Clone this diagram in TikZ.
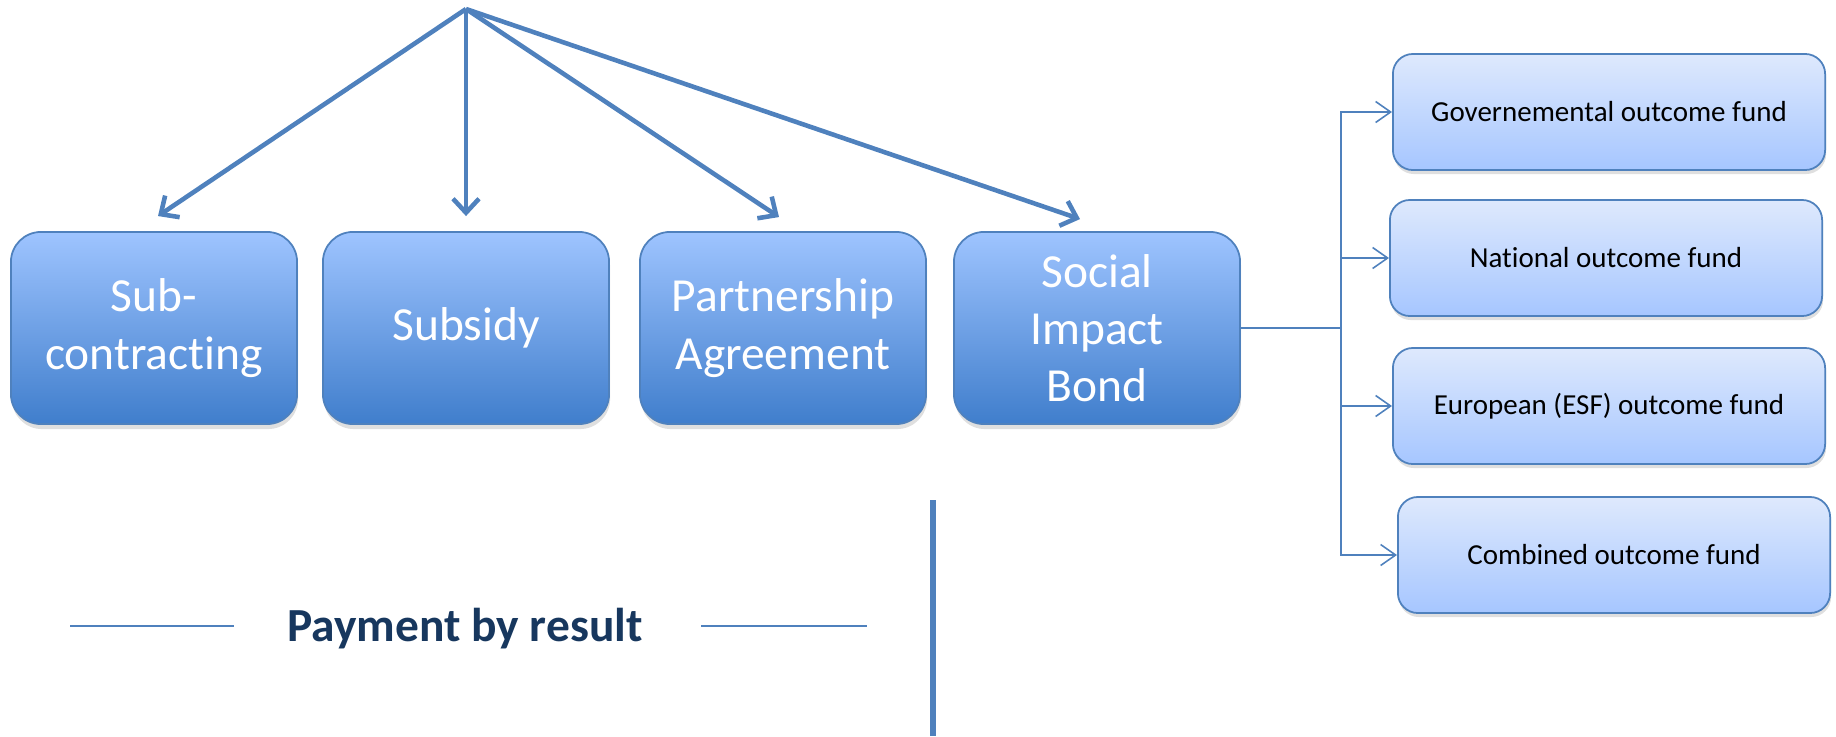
\documentclass[tikz,border=0pt]{standalone}
\usepackage{fontspec}
\setmainfont{Carlito}[Ligatures=NoCommon]
\usetikzlibrary{arrows.meta,shadows}

\definecolor{boxline}{RGB}{79,129,189}
\definecolor{bigtop}{RGB}{158,196,255}
\definecolor{bigbottom}{RGB}{64,126,204}
\definecolor{smalltop}{RGB}{222,233,253}
\definecolor{smallbottom}{RGB}{166,198,255}
\definecolor{navytext}{RGB}{23,55,94}

\tikzset{
    mainbox/.style={draw=boxline, line width=0.5pt, rounded corners=0.3cm,
        top color=bigtop, bottom color=bigbottom,
        minimum width=2.86cm, minimum height=1.92cm,
        text=white, align=center, font=\fontsize{13.5}{16.3}\selectfont,
        drop shadow={shadow xshift=0.01cm, shadow yshift=-0.05cm, opacity=0.25}},
    fundbox/.style={draw=boxline, line width=0.5pt, rounded corners=0.2cm,
        top color=smalltop, bottom color=smallbottom,
        minimum width=4.32cm, minimum height=1.16cm,
        align=center, font=\fontsize{8.25}{10}\selectfont,
        drop shadow={shadow xshift=0.01cm, shadow yshift=-0.04cm, opacity=0.25}},
    bigarrow/.style={draw=boxline, line width=1.3pt,
        -{Straight Barb[length=0.14cm,width=0.26cm]}},
    fundarrow/.style={draw=boxline, line width=0.45pt,
        -{Straight Barb[length=0.15cm,width=0.21cm]}},
    siderule/.style={draw=boxline, line width=0.6pt},
}

\begin{document}
\begin{tikzpicture}[x=0.01cm, y=-0.01cm]

    % Set bounding box dimensions
    \useasboundingbox (0,0) rectangle (1836,736);

    % Draw the four contract boxes
    \node[mainbox] at (154,328) (sub) {Sub-\\contracting};
    \node[mainbox] at (466,328) (subsidy) {Subsidy};
    \node[mainbox] at (783,328) (partner) {Partnership\\Agreement};
    \node[mainbox] at (1097,328) (sib) {Social\\Impact\\Bond};

    % Draw arrows from the top point to the boxes
    \coordinate (apex) at (466,9);
    \draw[bigarrow] (apex) -- ([xshift=0.04cm, yshift=0.15cm]sub.north);
    \draw[bigarrow] (apex) -- ([yshift=0.15cm]subsidy.north);
    \draw[bigarrow] (apex) -- ([xshift=-0.04cm, yshift=0.14cm]partner.north);
    \draw[bigarrow] (apex) -- ([xshift=-0.17cm, yshift=0.12cm]sib.north);

    % Draw the outcome fund boxes
    \node[fundbox] at (1609,112) (gov) {Governemental outcome fund};
    \node[fundbox] at (1606,258) (national) {National outcome fund};
    \node[fundbox] at (1609,406) (esf) {European (ESF) outcome fund};
    \node[fundbox] at (1614,555) (combined) {Combined outcome fund};

    % Draw the branching connector to the funds
    \coordinate (split) at (1341,328);
    \draw[siderule, line width=0.45pt] (sib.east) -- (split);
    \draw[fundarrow] (split) |- (gov.west);
    \draw[fundarrow] (split) |- (national.west);
    \draw[fundarrow] (split) |- (esf.west);
    \draw[fundarrow] (split) |- (combined.west);

    % Draw payment by result label and its rules
    \node[inner sep=0pt, text=navytext, font=\bfseries\fontsize{13.5}{16}\selectfont]
        at (465,629) (pbr) {Payment by result};
    \draw[siderule] ([xshift=-0.53cm, yshift=0.03cm]pbr.west) -- ++(-164,0);
    \draw[siderule] ([xshift=0.58cm, yshift=0.03cm]pbr.east) -- ++(166,0);

    % Draw the vertical bar
    \draw[draw=boxline, line width=1.7pt] (933,500) -- (933,736);
\end{tikzpicture}
\end{document}
